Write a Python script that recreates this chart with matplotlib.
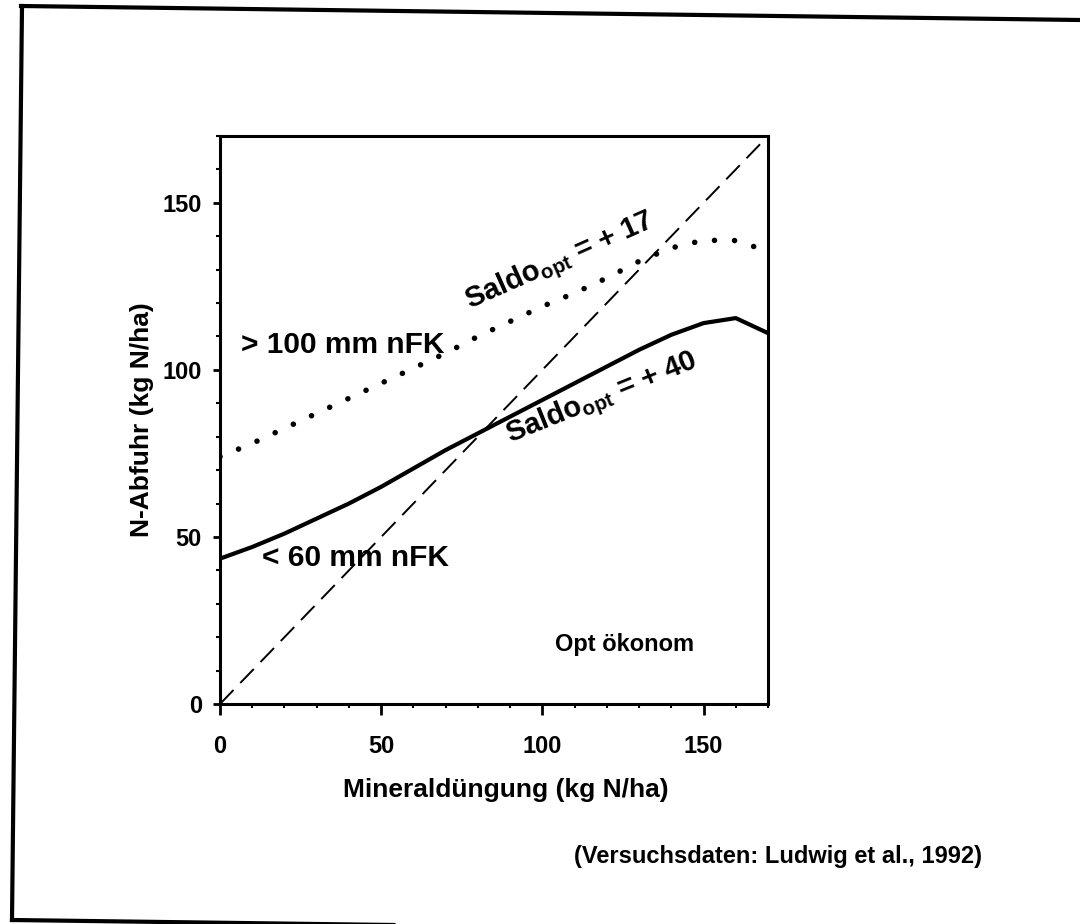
import matplotlib
matplotlib.use("Agg")
import matplotlib.pyplot as plt
from matplotlib.lines import Line2D
from matplotlib.ticker import MultipleLocator

plt.rcParams['font.family'] = ['Liberation Sans', 'DejaVu Sans']
plt.rcParams['font.weight'] = 'bold'
plt.rcParams['mathtext.fontset'] = 'custom'
plt.rcParams['mathtext.rm'] = 'Liberation Sans:bold'
plt.rcParams['mathtext.bf'] = 'Liberation Sans:bold'
plt.rcParams['mathtext.it'] = 'Liberation Sans:bold'

# ---- data ----
fert = [0, 10, 20, 30, 40, 50, 60, 70, 80, 90, 100, 110, 120, 130, 140, 150, 160, 170]
dry_soil = [43.5, 47, 51, 55.5, 60, 65, 70.5, 76, 81, 86, 91, 96, 101, 106, 110.5, 114, 115.5, 111]
wet_soil = [74, 78, 82.5, 87, 91.5, 96, 100.5, 105, 110, 114.5, 119, 123, 127.5, 132.5, 136.5, 138.8, 138.7, 135.5]
balance_line = [0, 170]
x_ticks = [0, 50, 100, 150]
y_ticks = [0, 50, 100, 150]

W, H = 1080, 924
fig = plt.figure(figsize=(W / 100, H / 100), dpi=100)

# axes placement (pixels)
L, R, B, T = 220, 768, 704, 136
ax = fig.add_axes([L / W, 1 - B / H, (R - L) / W, (B - T) / H])

ax.plot(balance_line, balance_line, color='black', lw=1.4, linestyle=(0, (10, 5)))
ax.plot(fert, dry_soil, color='black', lw=3.0, solid_capstyle='butt', solid_joinstyle='round')
ax.plot(fert, wet_soil, color='black', lw=4.0, linestyle=(0, (0.01, 3.6)),
        dash_capstyle='round')

ax.set_xlim(0, 170)
ax.set_ylim(0, 170)
ax.set_xticks(x_ticks)
ax.set_yticks(y_ticks)
ax.xaxis.set_minor_locator(MultipleLocator(10))
ax.yaxis.set_minor_locator(MultipleLocator(10))
for s in ax.spines.values():
    s.set_linewidth(2.2)
ax.tick_params(axis='x', which='major', direction='out', length=8, width=2, pad=14, labelsize=17)
ax.tick_params(axis='y', which='major', direction='out', length=5, width=2, pad=8, labelsize=17)
ax.tick_params(axis='both', which='minor', direction='out', length=3, width=1.5)
for lab in ax.get_xticklabels() + ax.get_yticklabels():
    lab.set_fontweight('bold')

# in-plot annotations
ax.text(6.5, 107.5, '> 100 mm nFK', fontsize=21.5, fontweight='bold', ha='left', va='center')
ax.text(13, 43.7, '< 60 mm nFK', fontsize=21.5, fontweight='bold', ha='left', va='center')
ax.text(104, 17.7, 'Opt ökonom', fontsize=17, fontweight='bold', ha='left', va='center')
ax.text(105.5, 132.4, r'Saldo$_{\mathbf{opt}}$ = + 17', fontsize=21, fontweight='bold',
        ha='center', va='center', rotation=24, rotation_mode='anchor')
ax.text(118.5, 91.2, r'Saldo$_{\mathbf{opt}}$ = + 40', fontsize=21, fontweight='bold',
        ha='center', va='center', rotation=22, rotation_mode='anchor')

# axis labels
fig.text(506 / W, 1 - 790 / H, 'Mineraldüngung (kg N/ha)', fontsize=19, fontweight='bold',
         ha='center', va='center')
fig.text(142 / W, 1 - 420 / H, 'N-Abfuhr (kg N/ha)', fontsize=19, fontweight='bold',
         ha='center', va='center', rotation=90)
fig.text(778 / W, 1 - 857 / H, '(Versuchsdaten: Ludwig et al., 1992)', fontsize=17,
         fontweight='bold', ha='center', va='center')

# scanned outer frame (slightly rotated)
def px(x, y):
    return (x / W, 1 - y / H)

for (x0, y0), (x1, y1) in [((21, 6), (1080, 20)), ((22, 6), (12, 920)), ((12, 920), (1080, 934))]:
    a, b = px(x0, y0), px(x1, y1)
    fig.add_artist(Line2D([a[0], b[0]], [a[1], b[1]], transform=fig.transFigure,
                          color='black', lw=3))

fig.savefig('out.png', dpi=100)
